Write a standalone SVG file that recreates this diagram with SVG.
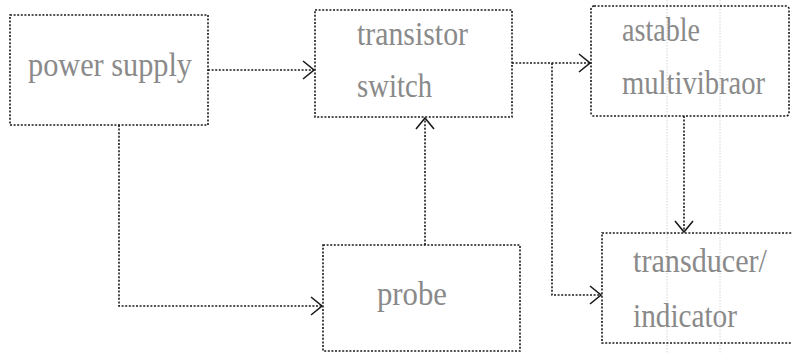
<svg xmlns="http://www.w3.org/2000/svg" width="792" height="353" viewBox="0 0 792 353">
  <style>
    .box { fill: none; stroke: #1a1a1a; stroke-width: 1.6; stroke-dasharray: 2 1.6; }
    .wire { fill: none; stroke: #1a1a1a; stroke-width: 1.6; stroke-dasharray: 2 1.6; }
    .guide { fill: none; stroke: #d4d4d4; stroke-width: 1; stroke-dasharray: 1.5 1.5; }
    .lbl { font-size: 33px; fill: #8a8a8a; }
  </style>
  <defs>
    <marker id="chev" markerWidth="14" markerHeight="20" refX="12" refY="10" orient="auto" markerUnits="userSpaceOnUse">
      <path d="M1,1 L12,10 L1,19" fill="none" stroke="#1a1a1a" stroke-width="1.6"/>
    </marker>
  </defs>

  <rect width="792" height="353" fill="#ffffff"/>

  <!-- faint ruling lines on the right -->
  <g id="guides">
    <line class="guide" x1="667" y1="0" x2="667" y2="353"/>
    <line class="guide" x1="720" y1="0" x2="720" y2="353"/>
  </g>

  <g id="connectors">
    <!-- power supply to transistor switch -->
    <path class="wire" d="M208,70 H314" marker-end="url(#chev)"/>
    <!-- power supply to probe -->
    <path class="wire" d="M119,125 V306 H322" marker-end="url(#chev)"/>
    <!-- probe to transistor switch -->
    <path class="wire" d="M425,245 V118" marker-end="url(#chev)"/>
    <!-- transistor switch to astable multivibrator -->
    <path class="wire" d="M512,63 H590" marker-end="url(#chev)"/>
    <!-- branch to transducer/indicator -->
    <path class="wire" d="M552,63 V295 H601" marker-end="url(#chev)"/>
    <!-- astable multivibrator to transducer/indicator -->
    <path class="wire" d="M684,116 V232" marker-end="url(#chev)"/>
  </g>

  <g font-family="'Liberation Serif', 'DejaVu Serif', 'Times New Roman', serif">
    <g id="power-supply">
      <rect class="box" x="10" y="15" width="198" height="110"/>
      <text class="lbl" x="28" y="76" textLength="164" lengthAdjust="spacingAndGlyphs">power supply</text>
    </g>

    <g id="transistor-switch">
      <rect class="box" x="315" y="10" width="197" height="107"/>
      <text class="lbl" x="357" y="45" textLength="111" lengthAdjust="spacingAndGlyphs">transistor</text>
      <text class="lbl" x="357" y="97" textLength="75" lengthAdjust="spacingAndGlyphs">switch</text>
    </g>

    <g id="astable-multivibrator">
      <rect class="box" x="591" y="6" width="198" height="110" rx="3"/>
      <text class="lbl" x="622" y="41" textLength="78" lengthAdjust="spacingAndGlyphs">astable</text>
      <text class="lbl" x="622" y="94" textLength="143" lengthAdjust="spacingAndGlyphs">multivibraor</text>
    </g>

    <g id="transducer-indicator">
      <rect class="box" x="602" y="233" width="196" height="110"/>
      <text class="lbl" x="633" y="272" textLength="134" lengthAdjust="spacingAndGlyphs">transducer/</text>
      <text class="lbl" x="633" y="327" textLength="104" lengthAdjust="spacingAndGlyphs">indicator</text>
    </g>

    <g id="probe">
      <rect class="box" x="323" y="245" width="197" height="106"/>
      <text class="lbl" x="377" y="305" textLength="70" lengthAdjust="spacingAndGlyphs">probe</text>
    </g>
  </g>
</svg>
